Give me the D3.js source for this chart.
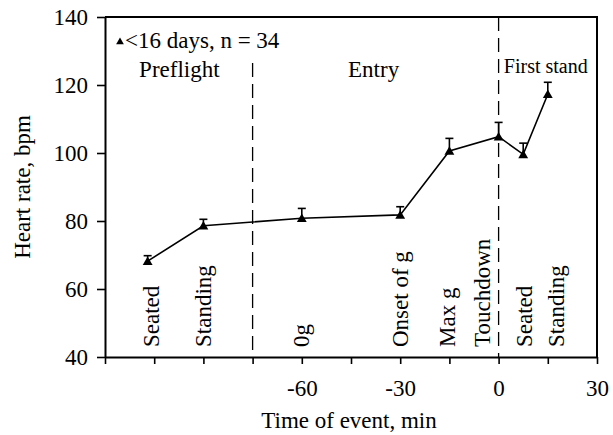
<!DOCTYPE html>
<html><head><meta charset="utf-8">
<script src="https://cdn.jsdelivr.net/npm/d3@7"></script>
<style>body{margin:0;background:#fff}</style>
</head><body><svg id="c" width="613" height="435"></svg>
<script>
// ---- data ----
const times = [-107, -90, -60, -30, -15, 0, 7.5, 15];
const heartRate = [68.2, 78.6, 80.8, 81.8, 100.6, 104.8, 99.6, 117.3];
const errorUp = [1.6, 1.9, 2.9, 2.4, 3.7, 4.2, 3.3, 3.5];
const eventLabels = ["Seated", "Standing", "0g", "Onset of g", "Max g", "Touchdown", "Seated", "Standing"];
const labelTimes = [-106, -90, -60, -30, -15.5, -5, 8, 17.5];
const xTicks = [-120, -105, -90, -75, -60, -45, -30, -15, 0, 15, 30];
const xTickLabels = ["", "", "", "", "-60", "", "-30", "", "0", "", "30"];
const yTicks = [40, 60, 80, 100, 120, 140];
const phaseLabels = ["Preflight", "Entry", "First stand"];
const phaseTimes = [-109.6, -45.9, 1.6];
const phaseValues = [122.4, 122.4, 123.5];
const dividerTimes = [-75, 0];
const dividerTops = [126.5, 140];
const legendText = "<16 days, n = 34";

// ---- layout ----
const FONT = '"Liberation Serif"';
const FS = "23px";
const svg = d3.select("#c");
const m = {l: 105, r: 597, t: 17, b: 357};
const x = d3.scaleLinear().domain([-120, 30]).range([m.l, m.r]);
const y = d3.scaleLinear().domain([40, 140]).range([m.b, m.t]);

svg.append("path")
  .attr("d", `M${m.l},${m.t}H${m.r}V${m.b}`)
  .attr("fill", "none").attr("stroke", "#000").attr("stroke-width", 2);

const yAxis = svg.append("g").attr("transform", `translate(${m.l},0)`)
  .call(d3.axisLeft(y).tickValues(yTicks).tickSize(8).tickPadding(9).tickSizeOuter(0));
const xAxis = svg.append("g").attr("transform", `translate(0,${m.b})`)
  .call(d3.axisBottom(x).tickValues(xTicks).tickSize(7).tickPadding(16).tickSizeOuter(0)
    .tickFormat((d, i) => xTickLabels[i]));
[yAxis, xAxis].forEach(g => {
  g.attr("font-family", null).attr("font-size", null);
  g.select(".domain").attr("stroke-width", 2);
  g.selectAll(".tick line").attr("stroke-width", 1.6);
  g.selectAll("text").style("font-family", FONT).style("font-size", FS).attr("fill", "#000");
});

svg.selectAll(".div").data(dividerTimes).enter().append("line")
  .attr("x1", d => x(d)).attr("x2", d => x(d))
  .attr("y1", (d, i) => y(dividerTops[i])).attr("y2", m.b)
  .attr("stroke", "#000").attr("stroke-width", 1.3).attr("stroke-dasharray", "14,7");

const pts = times.map((t, i) => ({t, v: heartRate[i], e: errorUp[i]}));
svg.append("path").datum(pts)
  .attr("d", d3.line().x(d => x(d.t)).y(d => y(d.v)))
  .attr("fill", "none").attr("stroke", "#000").attr("stroke-width", 1.6);

const eb = svg.selectAll(".eb").data(pts).enter().append("g");
eb.append("line").attr("x1", d => x(d.t)).attr("x2", d => x(d.t))
  .attr("y1", d => y(d.v)).attr("y2", d => y(d.v + d.e))
  .attr("stroke", "#000").attr("stroke-width", 1.6);
eb.append("line").attr("x1", d => x(d.t) - 4).attr("x2", d => x(d.t) + 4)
  .attr("y1", d => y(d.v + d.e)).attr("y2", d => y(d.v + d.e))
  .attr("stroke", "#000").attr("stroke-width", 1.6);

const tri = d3.symbol().type(d3.symbolTriangle).size(42);
svg.selectAll(".mk").data(pts).enter().append("path")
  .attr("d", tri).attr("transform", d => `translate(${x(d.t)},${y(d.v) + 1})`).attr("fill", "#000");

svg.selectAll(".ev").data(eventLabels).enter().append("text")
  .attr("transform", (d, i) => `translate(${x(labelTimes[i])},347) rotate(-90)`)
  .attr("dy", "0.33em").style("font-family", FONT).style("font-size", FS).text(d => d);

svg.selectAll(".ph").data(phaseLabels).enter().append("text")
  .attr("x", (d, i) => x(phaseTimes[i])).attr("y", (d, i) => y(phaseValues[i]))
  .style("font-family", FONT)
  .style("font-size", (d, i) => i === 2 ? "20px" : FS).text(d => d);

svg.append("path").attr("d", d3.symbol().type(d3.symbolTriangle).size(26))
  .attr("transform", "translate(120,42)").attr("fill", "#000");
svg.append("text").attr("x", 125).attr("y", 48)
  .style("font-family", FONT).style("font-size", FS).text(legendText);

svg.append("text").attr("transform", `translate(30,187) rotate(-90)`)
  .attr("text-anchor", "middle").style("font-family", FONT).style("font-size", FS)
  .text("Heart rate, bpm");
svg.append("text").attr("x", 349).attr("y", 428)
  .attr("text-anchor", "middle").style("font-family", FONT).style("font-size", FS)
  .text("Time of event, min");
</script></body></html>
